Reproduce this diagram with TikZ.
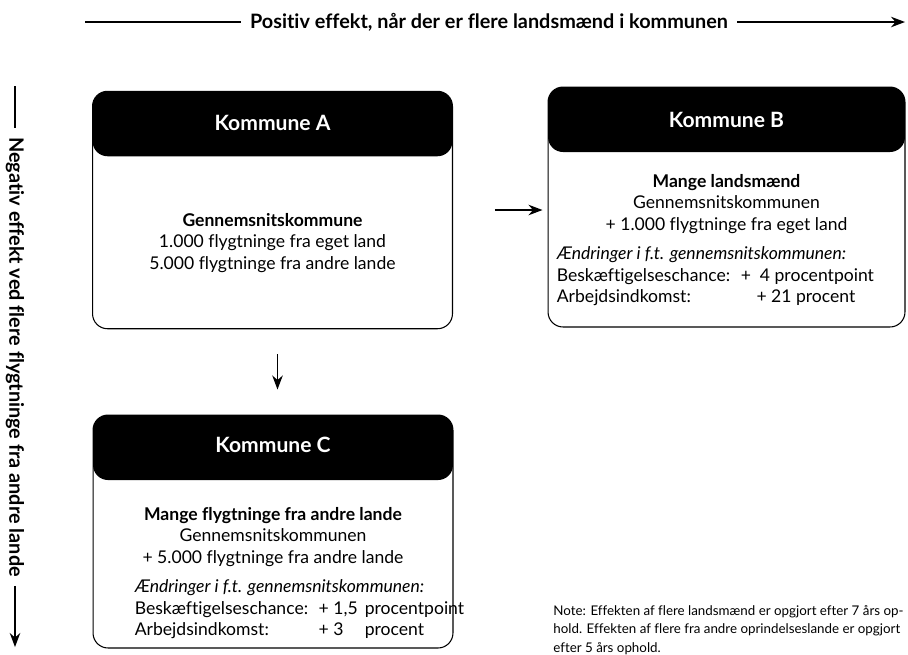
\documentclass[tikz,border=0pt]{standalone}
\usepackage{fontspec}
\setmainfont[Ligatures=NoCommon]{Lato}
\usetikzlibrary{arrows.meta,positioning,calc}

\begin{document}
\begin{tikzpicture}[>={Stealth[length=8pt,width=6pt]}, x=0.02cm, y=-0.02cm,
        every node/.style = {inner sep=0pt},
        kbox/.style = {draw, line width=0.6pt, rounded corners=0.3cm,
                minimum width=7.2cm, minimum height=4.75cm,
                path picture={\fill (path picture bounding box.north west)
                        rectangle ([yshift=-1.3cm]path picture bounding box.north east);}},
        ktitle/.style = {text=white, font=\bfseries\fontsize{12}{14}\selectfont},
        kbody/.style = {align=center, font=\fontsize{10}{12.2}\selectfont},
        kdata/.style = {anchor=north west, font=\fontsize{10}{12.2}\selectfont},
        axis/.style = {font=\bfseries\fontsize{11.3}{13}\selectfont, inner xsep=5pt},
        note/.style = {anchor=north west, align=left, font=\fontsize{7.6}{10.5}\selectfont},
        link/.style = {->, line width=0.8pt},
    ]
    \useasboundingbox (0,0) rectangle (908,654);

    \node[axis] (pos) at (489,22) {Positiv effekt, når der er flere landsmænd i kommunen};
    \coordinate (pos-start) at (85,22);
    \coordinate (pos-end) at (905,22);
    \draw[line width=0.8pt] (pos-start) -- (pos.west);
    \draw[link] (pos.east) -- (pos-end);

    \node[axis, rotate=-90] (neg) at (15,357) {Negativ effekt ved flere flygtninge fra andre lande};
    \coordinate (neg-start) at (15,86);
    \coordinate (neg-end) at (15,647);
    \draw[line width=0.8pt] (neg-start) -- (neg.west);
    \draw[link] (neg.east) -- (neg-end);

    \node[kbox] (A) at (272.5,210) {};
    \node[ktitle] (A-title) at ([yshift=-0.65cm]A.north) {Kommune A};
    \node[kbody] (A-body) at ([yshift=-0.66cm]A.center)
        {\textbf{Gennemsnitskommune}\\ 1.000 flygtninge fra eget land\\ 5.000 flygtninge fra andre lande};

    \node[kbox, minimum width=7.14cm, minimum height=4.8cm] (B) at (726.5,207) {};
    \node[ktitle] (B-title) at ([yshift=-0.66cm]B.north) {Kommune B};
    \node[kbody] (B-body) at ([yshift=0.06cm]B.center)
        {\textbf{Mange landsmænd}\\ Gennemsnitskommunen\\ + 1.000 flygtninge fra eget land};
    \node[kdata, xshift=0.18cm, yshift=-6pt] (B-data) at (B-body.south -| B.west)
        {\begin{tabular}{@{}l@{\hspace{0.6em}}l@{}}
            \multicolumn{2}{@{}l}{\textit{Ændringer i f.t. gennemsnitskommunen:}}\\
            Beskæftigelseschance: & +\ \ 4 procentpoint\\
            Arbejdsindkomst: & \hspace{0.9em}+ 21 procent
        \end{tabular}};

    \node[kbox, minimum height=4.66cm] (C) at (273,531.5) {};
    \node[ktitle] (C-title) at ([yshift=-0.6cm]C.north) {Kommune C};
    \node[kbody] (C-body) at ([yshift=-0.11cm]C.center)
        {\textbf{Mange flygtninge fra andre lande}\\ Gennemsnitskommunen\\ + 5.000 flygtninge fra andre lande};
    \node[kdata, xshift=0.84cm, yshift=-6pt] (C-data) at (C-body.south -| C.west)
        {\begin{tabular}{@{}l@{\hspace{0.6em}}l@{\hspace{0.4em}}l@{}}
            \multicolumn{3}{@{}l}{\textit{Ændringer i f.t. gennemsnitskommunen:}}\\
            Beskæftigelseschance: & + 1,5 & procentpoint\\
            Arbejdsindkomst: & + 3 & procent
        \end{tabular}};

    \draw[link, shorten <=0.84cm, shorten >=0.1cm] (A.east) -- (A.east -| B.west);
    \draw[link, shorten <=0.5cm, shorten >=0.5cm] ([xshift=0.1cm]A.south) -- ([xshift=0.1cm]A.south |- C.north);

    \node[note] (nb) at (553,605)
        {Note: Effekten af flere landsmænd er opgjort efter 7 års op-\\
         hold. Effekten af flere fra andre oprindelseslande er opgjort\\
         efter 5 års ophold.};
\end{tikzpicture}
\end{document}
